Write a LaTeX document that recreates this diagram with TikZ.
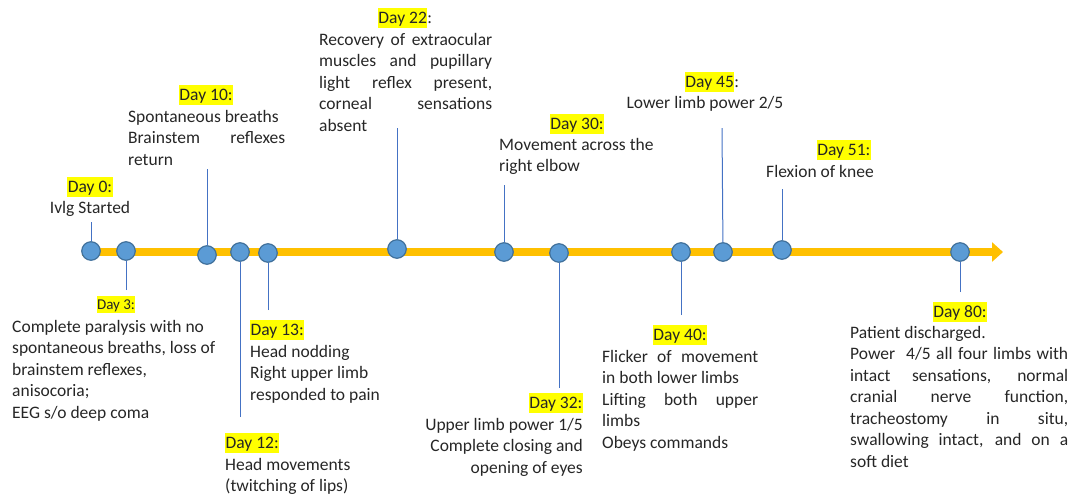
\documentclass[tikz,border=0pt]{standalone}
\usepackage{fontspec}
\setmainfont{Carlito}
\usetikzlibrary{arrows.meta,positioning}
\definecolor{axisgold}{RGB}{255,192,0}
\definecolor{dotblue}{RGB}{91,155,213}
\definecolor{dotedge}{RGB}{65,113,156}
\definecolor{stemblue}{RGB}{68,114,196}
\definecolor{dayyellow}{RGB}{255,255,0}
\definecolor{ink}{RGB}{38,38,38}
\newcommand{\hlday}[1]{{\fboxsep=0.4pt\colorbox{dayyellow}{\rule[-4.6pt]{0pt}{19.5pt}#1}}}

\begin{document}
\begin{tikzpicture}[x=1pt,y=-1pt,
  event/.style={circle,draw=dotedge,fill=dotblue,line width=1.2pt,
    minimum size=18.5pt,inner sep=0pt},
  stem/.style={stemblue,line width=1pt},
  day/.style={inner sep=0pt,text=ink,font=\fontsize{17.5}{21.5}\selectfont},
  note/.style={day,align=left},
  block/.style={day,align=justify}]
  \useasboundingbox (0,0) rectangle (1073,496);

  % time axis
  \coordinate (axstart) at (82,252);
  \coordinate (axend) at (1003,252);
  \draw[axisgold,line width=8.5pt,-{Triangle[length=11pt,width=19pt]}]
    (axstart) -- (axend);

  % events
  \node[event] (d0) at (91,251) {};
  \node[event] (d3) at (126,251) {};
  \node[event] (d10) at (207,255) {};
  \node[event] (d12) at (240,252) {};
  \node[event] (d13) at (268,253) {};
  \node[event] (d22) at (397,249) {};
  \node[event] (d30) at (504,252) {};
  \node[event] (d32) at (559,253) {};
  \node[event] (d40) at (681,252) {};
  \node[event] (d45) at (723,252) {};
  \node[event] (d51) at (782,250) {};
  \node[event] (d80) at (960,252) {};

  % free ends of the stems
  \coordinate (s0) at (91,222);
  \coordinate (s3) at (126,290);
  \coordinate (s10) at (207,169);
  \coordinate (s12) at (240,417);
  \coordinate (s13) at (268,310);
  \coordinate (s22) at (397,128);
  \coordinate (s30) at (504,185);
  \coordinate (s32) at (559,388);
  \coordinate (s40) at (681,315);
  \coordinate (s45) at (722,128);
  \coordinate (s51) at (782,189);
  \coordinate (s80) at (960,292);

  \draw[stem] (s0) -- (d0);
  \draw[stem] (s3) -- (d3);
  \draw[stem] (s10) -- (d10);
  \draw[stem] (s12) -- (d12);
  \draw[stem] (s13) -- (d13);
  \draw[stem] (s22) -- (d22);
  \draw[stem] (s30) -- (d30);
  \draw[stem] (s32) -- (d32);
  \draw[stem] (s40) -- (d40);
  \draw[stem] (s45) -- (d45);
  \draw[stem] (s51) -- (d51);
  \draw[stem] (s80) -- (d80);

  % headings
  \node[day,anchor=base] (h0) at (90,192) {\hlday{Day 0:}};
  \node[day,anchor=base,font=\fontsize{15}{18}\selectfont] (h3) at (116,309)
    {{\fboxsep=0.4pt\colorbox{dayyellow}{\rule[-4pt]{0pt}{17pt}Day 3:}}};
  \node[day,anchor=base] (h10) at (206,100) {\hlday{Day 10:}};
  \node[day,anchor=base west] (h12) at (225,448) {\hlday{Day 12:}};
  \node[day,anchor=base west] (h13) at (250,335) {\hlday{Day 13:}};
  \node[day,anchor=base] (h22) at (405,23) {\hlday{Day 22}:};
  \node[day,anchor=base] (h30) at (577,129) {\hlday{Day 30:}};
  \node[day,anchor=base east] (h32) at (583,408) {\hlday{Day 32:}};
  \node[day,anchor=base] (h40) at (680,340) {\hlday{Day 40:}};
  \node[day,anchor=base] (h45) at (712,87) {\hlday{Day 45}:};
  \node[day,anchor=base east] (h51) at (871,155) {\hlday{Day 51:}};
  \node[day,anchor=base] (h80) at (960,317) {\hlday{Day 80:}};

  % texts
  \node[day,anchor=base] (b0) at (90,213) {Ivlg Started};
  \node[note,anchor=north west] (b3) at (12,320)
    {Complete paralysis with no\\spontaneous breaths, loss of\\brainstem reflexes,\\anisocoria;\\EEG s/o deep coma};
  \node[block,anchor=north west,text width=157pt] (b10) at (128,110)
    {Spontaneous breaths\par Brainstem reflexes\linebreak return};
  \node[note,anchor=north west] (b12) at (225,458)
    {Head movements\\(twitching of lips)};
  \node[note,anchor=north west] (b13) at (250,345)
    {Head nodding\\Right upper limb\\responded to pain};
  \node[block,anchor=north west,text width=173pt] (b22) at (319,33)
    {Recovery of extraocular\linebreak muscles and pupillary\linebreak
     light reflex present,\linebreak corneal sensations\linebreak absent};
  \node[note,anchor=north west] (b30) at (499,138)
    {Movement across the\\right elbow};
  \node[day,align=right,anchor=north east] (b32) at (583,418)
    {Upper limb power 1/5\\Complete closing and\\opening of eyes};
  \node[block,anchor=north west,text width=156pt] (b40) at (602,350)
    {Flicker of movement\linebreak in both lower limbs\par
     Lifting both upper\linebreak limbs\par Obeys commands};
  \node[day,anchor=base] (b45) at (705,108) {Lower limb power 2/5};
  \node[day,anchor=base] (b51) at (820,177) {Flexion of knee};
  \node[block,anchor=north west,text width=218pt] (b80) at (850,326)
    {Patient discharged.\par
     Power~ 4/5 all four limbs with\linebreak intact sensations, normal\linebreak
     cranial nerve function,\linebreak tracheostomy in situ,\linebreak
     swallowing intact, and on a\linebreak soft diet};
\end{tikzpicture}
\end{document}
